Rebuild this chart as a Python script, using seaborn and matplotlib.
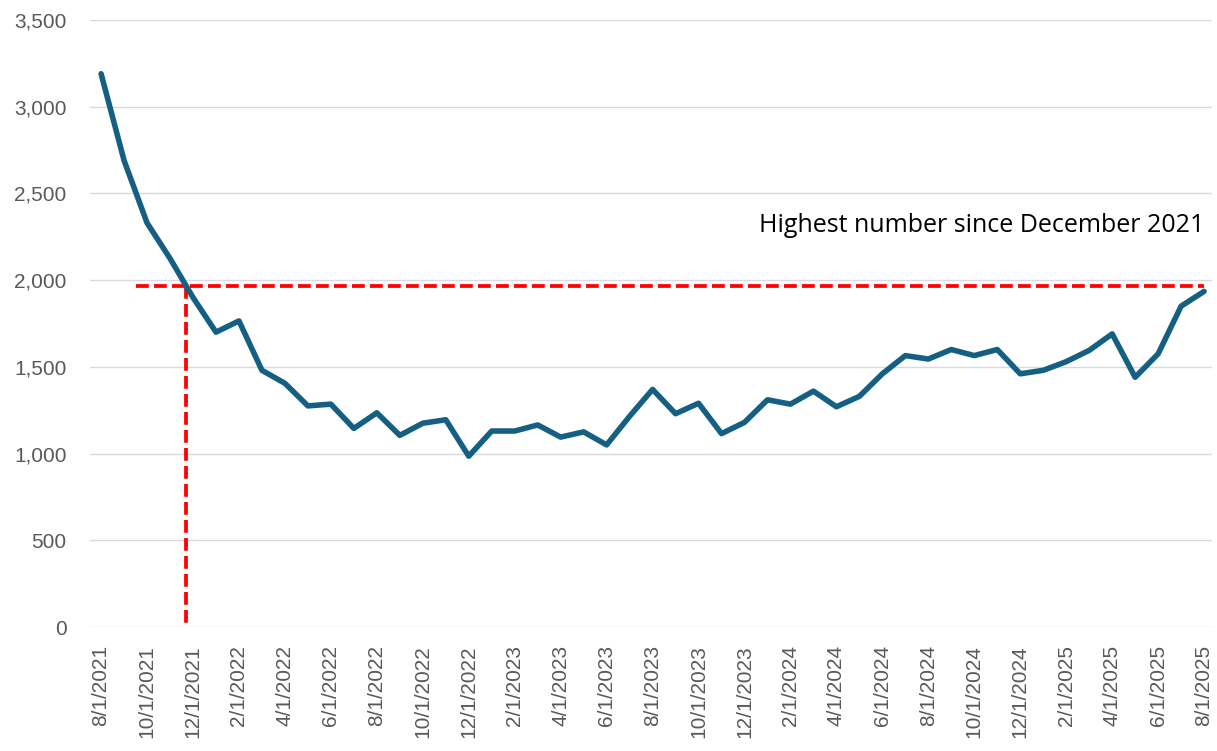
import numpy as np
import pandas as pd
import matplotlib
matplotlib.use("Agg")
import matplotlib.pyplot as plt
import seaborn as sns

# Monthly values, 8/1/2021 .. 8/1/2025
months = pd.date_range("2021-08-01", "2025-08-01", freq="MS")
values = [
    3190, 2690, 2330, 2125, 1900, 1700, 1765, 1480, 1405, 1275,
    1285, 1145, 1235, 1105, 1175, 1195, 985, 1130, 1130, 1165,
    1095, 1125, 1050, 1215, 1370, 1230, 1290, 1115, 1180, 1310,
    1285, 1360, 1270, 1330, 1460, 1565, 1545, 1600, 1565, 1600,
    1460, 1480, 1530, 1595, 1690, 1440, 1575, 1850, 1935,
]
threshold = 1965
threshold_start = 1.5
note = "Highest number since December 2021"

labels = [f"{d.month}/{d.day}/{d.year}" for d in months]
df = pd.DataFrame({"idx": np.arange(len(values)), "value": values})

sns.set_style("white")
plt.rcParams["font.family"] = ["Liberation Sans", "DejaVu Sans"]

fig = plt.figure(figsize=(12.17, 7.51), dpi=100)
ax = fig.add_axes([0.074, 0.1651, 0.922, 0.8083])

# grid
for v in range(0, 3501, 500):
    ax.axhline(v, color="#d9d9d9", lw=1.0, zorder=0)

sns.lineplot(data=df, x="idx", y="value", ax=ax, color="#156082", lw=4.0,
             solid_capstyle="round", solid_joinstyle="round", zorder=3)

# where the series first drops below the threshold
arr = np.array(values)
k = int(np.argmax(arr < threshold))
cross = (k - 1) + (arr[k - 1] - threshold) / (arr[k - 1] - arr[k])

ax.plot([threshold_start, len(values) - 1], [threshold, threshold],
        color="#ff0000", lw=2.7, dashes=(3.4, 1.4), zorder=2)
ax.plot([cross, cross], [threshold, 0], color="#ff0000", lw=2.7,
        dashes=(3.4, 1.4), zorder=2)

ax.text(len(values) - 1, 2278, note, ha="right", va="baseline",
        fontsize=18, family=["Open Sans", "DejaVu Sans"], color="black")

ax.set_xlim(-0.48, len(values) - 1 + 0.35)
ax.set_ylim(0, 3500)
ax.set_yticks(range(0, 3501, 500))
ax.set_yticklabels([f"{v:,}" for v in range(0, 3501, 500)])
ax.set_xticks(df["idx"][::2])
ax.set_xticklabels(labels[::2], rotation=90)
ax.tick_params(axis="y", length=0, pad=17, labelsize=15, labelcolor="#595959")
ax.tick_params(axis="x", length=0, pad=13, labelsize=15, labelcolor="#595959")
ax.set_xlabel("")
ax.set_ylabel("")
for s in ax.spines.values():
    s.set_visible(False)

fig.savefig("out.png", dpi=100)
